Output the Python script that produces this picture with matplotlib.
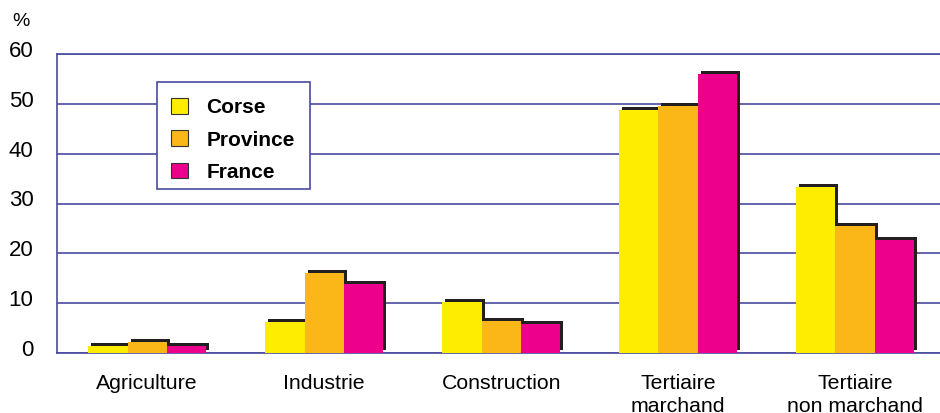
import matplotlib.pyplot as plt
import matplotlib.transforms as mtransforms
from matplotlib.patches import Patch, Rectangle
import numpy as np

plt.rcParams['font.family'] = ['Liberation Sans', 'DejaVu Sans']

# données (%)
categories = ['Agriculture', 'Industrie', 'Construction', 'Tertiaire\nmarchand', 'Tertiaire\nnon marchand']
corse = [1.4, 6.3, 10.3, 48.7, 33.3]
province = [2.2, 16.1, 6.4, 49.5, 25.4]
france = [1.4, 13.9, 5.8, 55.9, 22.6]
series_names = ['Corse', 'Province', 'France']
colors = ['#FFED00', '#FBB617', '#EC008C']

grid_col = '#4A4AA0'
shadow_col = '#231F20'

fig = plt.figure(figsize=(9.4, 4.13), dpi=100)
ax = fig.add_axes([57 / 940, 1 - 353 / 413, 1 - 57 / 940, (353 - 54) / 413])

x = np.arange(len(categories))
w = 0.222
offsets = [-w, 0, w]

# ombre portée décalée de 3 px vers le haut et la droite
shadow_tr = ax.transData + mtransforms.ScaledTranslation(3 / 100, 3 / 100, fig.dpi_scale_trans)
for vals, off in zip([corse, province, france], offsets):
    ax.bar(x + off, vals, w, color=shadow_col, transform=shadow_tr, zorder=2, linewidth=0)
for vals, off, c in zip([corse, province, france], offsets, colors):
    ax.bar(x + off, vals, w, color=c, zorder=3, linewidth=0)

ax.set_xlim(-0.51, 4.48)
ax.set_ylim(0, 60)
ax.set_yticks(range(0, 61, 10))
ax.yaxis.grid(True, color=grid_col, linewidth=1.2)
ax.set_axisbelow(True)
ax.set_xticks(x)
ax.set_xticklabels(categories, fontsize=15.3, linespacing=1.25)
ax.tick_params(axis='x', length=0, pad=15)
ax.tick_params(axis='y', length=0, pad=17, labelsize=16)
for lab in ax.get_yticklabels():
    lab.set_transform(lab.get_transform() + mtransforms.ScaledTranslation(0, 5 / 100, fig.dpi_scale_trans))

for s in ['left', 'bottom', 'top']:
    ax.spines[s].set_color(grid_col)
    ax.spines[s].set_linewidth(1.2)
ax.spines['right'].set_visible(False)

fig.text(12 / 940, 1 - 22 / 413, '%', fontsize=14, va='center', ha='left')

# cadre de la légende
box = Rectangle((157 / 940, 1 - 189 / 413), (310 - 157) / 940, (189 - 82) / 413,
                transform=fig.transFigure, facecolor='white', edgecolor=grid_col,
                linewidth=1.2, zorder=4, clip_on=False)
ax.add_patch(box)

handles = [Patch(facecolor=c, edgecolor='#333333', linewidth=0.8) for c in colors]
leg = ax.legend(handles, series_names, loc='center left',
                bbox_to_anchor=(171 / 940, 1 - 140 / 413), bbox_transform=fig.transFigure,
                prop={'weight': 'bold', 'size': 15}, frameon=False,
                borderpad=0, labelspacing=0.62,
                handlelength=0.8, handleheight=0.8, handletextpad=0.9, borderaxespad=0)
leg.set_zorder(5)

fig.savefig('out.png', dpi=100)
